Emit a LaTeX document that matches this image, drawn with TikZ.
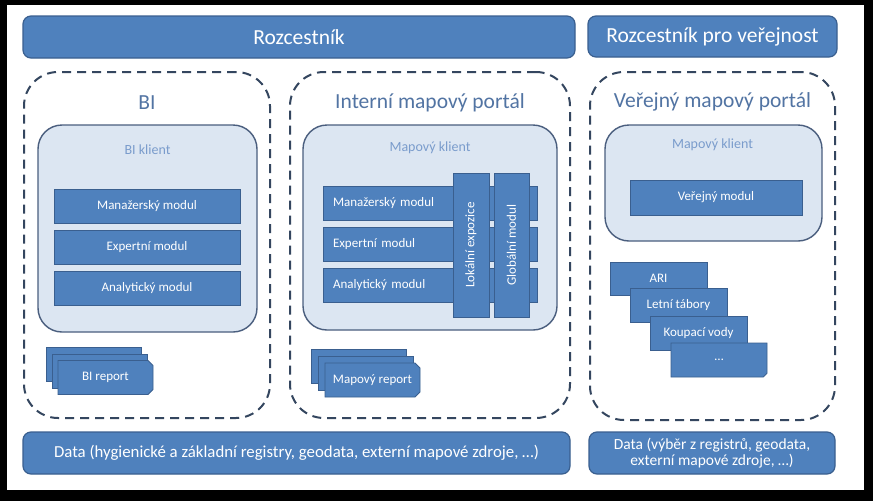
\documentclass[tikz,border=0pt]{standalone}
\usepackage{fontspec}
\setmainfont{Carlito}
\usetikzlibrary{positioning,shapes.misc}
\definecolor{barblue}{HTML}{4F81BD}
\definecolor{bardark}{HTML}{3A5F8F}
\definecolor{klientfill}{HTML}{DCE6F2}
\definecolor{klientline}{HTML}{4A5E7E}
\definecolor{dashline}{HTML}{34465F}
\definecolor{titleblue}{HTML}{5274A3}
\definecolor{klienttext}{HTML}{7A9CCC}

\begin{document}
\begin{tikzpicture}[x=1pt,y=-1pt,node distance=41pt,
  bar node/.style={draw=bardark,fill=barblue,line width=1.2pt,rounded corners=8pt,text=white,inner sep=0pt},
  portal node/.style={draw=dashline,dash pattern=on 9pt off 6pt,line width=2pt,rounded corners=34pt,inner sep=0pt},
  klient node/.style={draw=klientline,fill=klientfill,line width=1.4pt,rounded corners=24pt,inner sep=0pt},
  modul node/.style={draw=bardark,fill=barblue,line width=0.8pt,text=white,inner sep=0pt,font=\fontsize{13}{15}\selectfont},
  report node/.style={chamfered rectangle,chamfered rectangle corners={north east,south east},chamfered rectangle xsep=2pt,chamfered rectangle ysep=3pt,draw=bardark,fill=barblue,line width=0.8pt,text=white,inner sep=0pt,minimum width=95pt,minimum height=34pt,font=\fontsize{13}{15}\selectfont},
  title node/.style={text=titleblue,font=\fontsize{21.5}{24}\selectfont},
  klient title/.style={text=klienttext,font=\fontsize{14}{16}\selectfont}]
  % frame
  \fill[black] (0,0) rectangle (873,501);
  \fill[white] (7,5) rectangle (864,490);

  % top and bottom bars
  \node[bar node] (rozcestnik) [minimum width=552pt,minimum height=42pt,font=\fontsize{21.5}{24}\selectfont] at (299,37) {Rozcestník};
  \node[bar node] (rozcestnikV) [minimum width=249pt,minimum height=41pt,font=\fontsize{21.5}{24}\selectfont] at (712.5,36.5) {Rozcestník pro veřejnost};
  \node[bar node] (dataI) [minimum width=547pt,minimum height=42pt,font=\fontsize{16.8}{19}\selectfont] at (296.5,453) {Data (hygienické a základní registry, geodata, externí mapové zdroje, …)};
  \node[bar node] (dataV) [minimum width=246pt,minimum height=42pt,align=center,font=\fontsize{15.5}{16.5}\selectfont] at (712,453) {Data (výběr z registrů, geodata,\\externí mapové zdroje, …)};

  % portals
  \node[portal node] (bi) [minimum width=246pt,minimum height=346pt] at (147,245) {};
  \node[portal node] (interni) [minimum width=280pt,minimum height=346pt] at (430,245) {};
  \node[portal node] (verejny) [minimum width=245pt,minimum height=348pt] at (712.5,246) {};
  \node[title node] (biTitle) at (147,103) {BI};
  \node[title node] (interniTitle) at (430,103) {Interní mapový portál};
  \node[title node] (verejnyTitle) at (712.5,102) {Veřejný mapový portál};

  % BI
  \node[klient node] (klientBI) [minimum width=219pt,minimum height=207pt] at (147.5,228.5) {};
  \node[klient title] (klientBITitle) at (147.5,150) {BI klient};
  \node[modul node] (manBI) [minimum width=186pt,minimum height=34pt] at (147,206) {Manažerský modul};
  \node[modul node] (expBI) [minimum width=186pt,minimum height=34pt,below of=manBI] {Expertní modul};
  \node[modul node] (anaBI) [minimum width=186pt,minimum height=34pt,below of=expBI] {Analytický modul};
  \node[report node] (biRep1) at (93.5,364.5) {};
  \node[report node] (biRep2) at (99.5,371) {};
  \node[report node] (biRep3) at (105.5,377.5) {BI report};

  % Interni mapovy portal
  \node[klient node] (klientI) [minimum width=254pt,minimum height=205pt] at (430,227.5) {};
  \node[klient title] (klientITitle) at (430,148) {Mapový klient};
  \node[modul node] (manI) [minimum width=214pt,minimum height=34pt,text width=194pt,align=left] at (430,203.5) {Manažerský modul};
  \node[modul node] (expI) [minimum width=214pt,minimum height=34pt,text width=194pt,align=left,below of=manI] {Expertní modul};
  \node[modul node] (anaI) [minimum width=214pt,minimum height=34pt,text width=194pt,align=left,below of=expI] {Analytický modul};
  \node[modul node] (lokalni) [minimum width=144pt,minimum height=36pt,rotate=90] at (471,245) {Lokální expozice};
  \node[modul node] (globalni) [minimum width=144pt,minimum height=35pt,rotate=90] at (511.5,245) {Globální modul};
  \node[report node] (mapRep1) at (358.5,366) {};
  \node[report node] (mapRep2) at (365.5,373) {};
  \node[report node] (mapRep3) at (372.5,380) {Mapový report};

  % Verejny mapovy portal
  \node[klient node] (klientV) [minimum width=217pt,minimum height=116pt] at (713.5,183) {};
  \node[klient title] (klientVTitle) at (712.5,145) {Mapový klient};
  \node[modul node] (verejnyModul) [minimum width=172pt,minimum height=35pt] at (716,197.5) {Veřejný modul};
  \node[modul node] (ari) [minimum width=97pt,minimum height=33pt] at (658.5,278.5) {ARI};
  \node[modul node] (letni) [minimum width=97pt,minimum height=34pt] at (678.5,305.5) {Letní tábory};
  \node[modul node] (koupaci) [minimum width=97pt,minimum height=34pt] at (698.5,333.5) {Koupací vody};
  \node[report node] (dalsi) [chamfered rectangle corners=south east,minimum width=96pt] at (719,360) {…};
\end{tikzpicture}
\end{document}
